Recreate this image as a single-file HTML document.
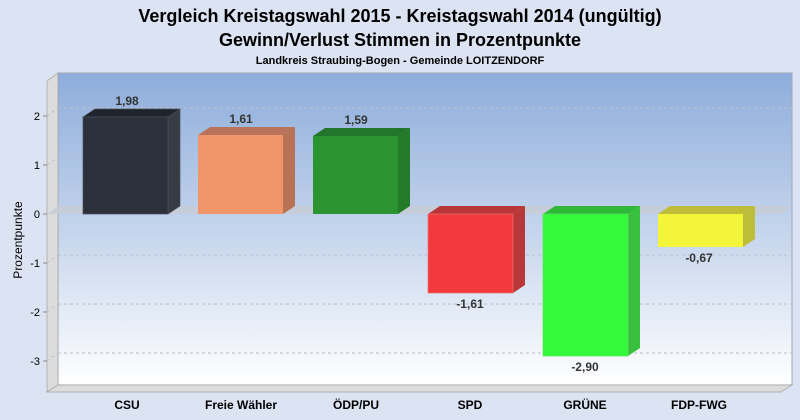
<!DOCTYPE html>
<html><head><meta charset="utf-8"><style>
html,body{margin:0;padding:0;background:#dce3f3;}
svg{display:block;font-family:"Liberation Sans",Arial,sans-serif;}
</style></head><body>
<svg width="800" height="420" viewBox="0 0 800 420" xmlns="http://www.w3.org/2000/svg">
<defs>
<linearGradient id="bg" x1="0" y1="0" x2="0" y2="1">
<stop offset="0" stop-color="#8eaddb"/>
<stop offset="0.5" stop-color="#c4d4ec"/>
<stop offset="1" stop-color="#ffffff"/>
</linearGradient>
</defs>
<rect width="800" height="420" fill="#dce3f3"/>
<text x="400" y="22" text-anchor="middle" font-size="18" font-weight="bold" fill="#000">Vergleich Kreistagswahl 2015 - Kreistagswahl 2014 (ungültig)</text>
<text x="400" y="46" text-anchor="middle" font-size="18" font-weight="bold" fill="#000">Gewinn/Verlust Stimmen in Prozentpunkte</text>
<text x="400" y="64" text-anchor="middle" font-size="11" font-weight="bold" fill="#000">Landkreis Straubing-Bogen - Gemeinde LOITZENDORF</text>
<!-- back wall -->
<rect x="58" y="73" width="734" height="312" fill="url(#bg)" stroke="#a0a8b8" stroke-width="1"/>
<!-- left wall -->
<polygon points="47,81 58,73 58,385 47,392" fill="#dcdcdc" stroke="#a0a0a0" stroke-width="0.7"/>
<!-- floor -->
<polygon points="47,392 58,385 792,385 781,392" fill="#dcdcdc" stroke="#a0a0a0" stroke-width="0.7"/>
<!-- grid -->
<g stroke="#b8c0cc" stroke-dasharray="3,3" stroke-width="1">
<line x1="58" y1="108" x2="792" y2="108"/>
<line x1="58" y1="157" x2="792" y2="157"/>
<line x1="58" y1="255" x2="792" y2="255"/>
<line x1="58" y1="304" x2="792" y2="304"/>
<line x1="58" y1="353" x2="792" y2="353"/>
<line x1="47" y1="116" x2="58" y2="108"/>
<line x1="47" y1="165" x2="58" y2="157"/>
<line x1="47" y1="263" x2="58" y2="255"/>
<line x1="47" y1="312" x2="58" y2="304"/>
<line x1="47" y1="361" x2="58" y2="353"/>
</g>
<!-- zero plane -->
<polygon points="47,214 58,206 792,206 781,214" fill="#c8ccd4" opacity="0.8"/>
<!-- ticks -->
<g stroke="#888" stroke-width="1">
<line x1="43" y1="116" x2="47" y2="116"/><line x1="43" y1="165" x2="47" y2="165"/>
<line x1="43" y1="214" x2="47" y2="214"/><line x1="43" y1="263" x2="47" y2="263"/>
<line x1="43" y1="312" x2="47" y2="312"/><line x1="43" y1="361" x2="47" y2="361"/>
</g>
<g font-size="11" fill="#000" text-anchor="end">
<text x="40" y="120">2</text><text x="40" y="169">1</text><text x="40" y="218">0</text>
<text x="40" y="267">-1</text><text x="40" y="316">-2</text><text x="40" y="365">-3</text>
</g>
<text transform="translate(22,240) rotate(-90)" text-anchor="middle" font-size="12" fill="#000">Prozentpunkte</text>
<!-- bars -->
<g stroke-width="0.7">
<!-- CSU -->
<polygon points="83,117 95,109 180,109 168,117" fill="#1f232b" stroke="#4a505a"/>
<polygon points="168,117 180,109 180,206 168,214" fill="#363b44" stroke="#4a505a"/>
<rect x="83" y="117" width="85" height="97" fill="#2b303a" stroke="#4a505a"/>
<!-- Freie -->
<polygon points="198,135 210,127 295,127 283,135" fill="#b8735a"/>
<polygon points="283,135 295,127 295,206 283,214" fill="#b87256"/>
<rect x="198" y="135" width="85" height="79" fill="#f0956a"/>
<!-- ÖDP -->
<polygon points="313,136 325,128 410,128 398,136" fill="#22752a"/>
<polygon points="398,136 410,128 410,206 398,214" fill="#237a28"/>
<rect x="313" y="136" width="85" height="78" fill="#2b9430"/>
<!-- SPD -->
<polygon points="428,214 440,206 525,206 513,214" fill="#b83538"/>
<polygon points="513,214 525,206 525,285 513,293" fill="#b8373a"/>
<rect x="428" y="214" width="85" height="79" fill="#f23a3e" stroke="#f07070"/>
<!-- GRÜNE -->
<polygon points="543,214 555,206 640,206 628,214" fill="#30b838"/>
<polygon points="628,214 640,206 640,348 628,356" fill="#38c03e"/>
<rect x="543" y="214" width="85" height="142" fill="#33f93a" stroke="#60e060"/>
<!-- FDP -->
<polygon points="658,214 670,206 755,206 743,214" fill="#bfbd38"/>
<polygon points="743,214 755,206 755,239 743,247" fill="#bcbd38"/>
<rect x="658" y="214" width="85" height="33" fill="#f2f53a"/>
</g>
<g font-size="12" font-weight="bold" fill="#333" text-anchor="middle">
<text x="127" y="105">1,98</text>
<text x="241" y="123">1,61</text>
<text x="356" y="124">1,59</text>
<text x="470" y="308">-1,61</text>
<text x="585" y="371">-2,90</text>
<text x="699" y="262">-0,67</text>
</g>
<g font-size="12" font-weight="bold" fill="#000" text-anchor="middle">
<text x="127" y="409">CSU</text>
<text x="241" y="409">Freie Wähler</text>
<text x="356" y="409">ÖDP/PU</text>
<text x="470" y="409">SPD</text>
<text x="585" y="409">GRÜNE</text>
<text x="699" y="409">FDP-FWG</text>
</g>
</svg>
</body></html>
